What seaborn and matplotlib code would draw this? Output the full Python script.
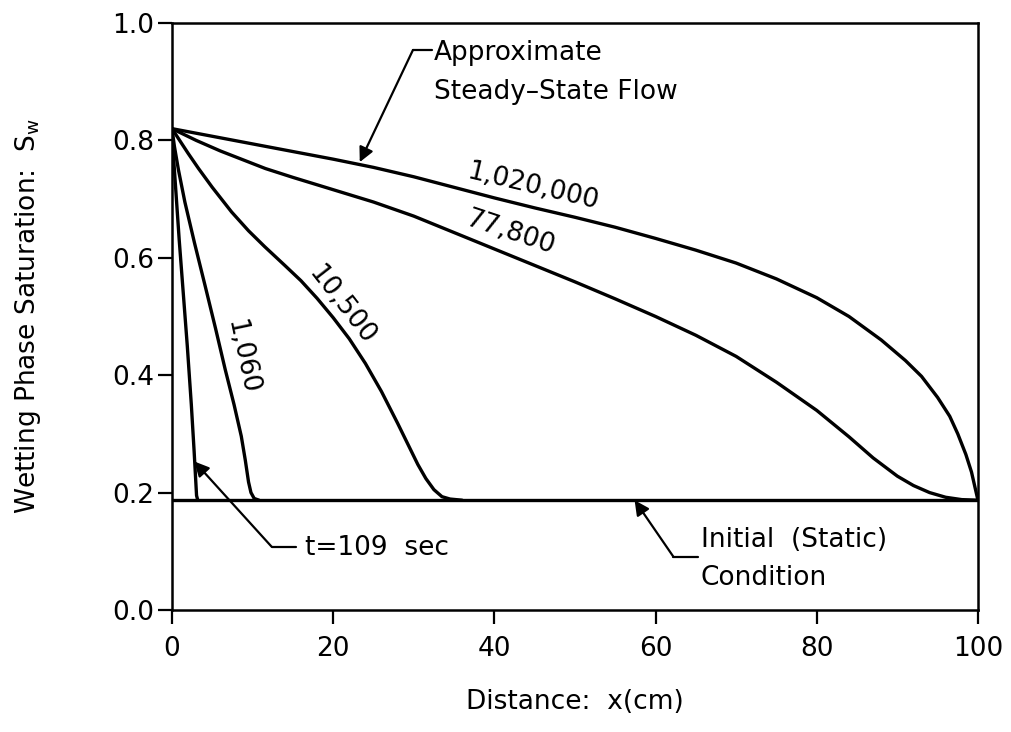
import matplotlib
matplotlib.use("Agg")
import matplotlib.pyplot as plt
import seaborn as sns

sns.set_style("ticks")
plt.rcParams['font.family'] = ['DejaVu Sans']
plt.rcParams['mathtext.default'] = 'regular'
plt.rcParams['font.size'] = 19
for key in ['text.color', 'axes.labelcolor', 'xtick.color', 'ytick.color']:
    plt.rcParams[key] = 'black'

# saturation profiles, x in cm
x_109 = [0, 0.2, 0.5, 0.9, 1.4, 1.9, 2.4, 2.75, 2.95, 3.05, 3.2]
s_109 = [0.82, 0.77, 0.71, 0.63, 0.54, 0.45, 0.35, 0.27, 0.22, 0.195, 0.187]

x_1060 = [0, 0.3, 0.8, 1.6, 2.8, 4.1, 5.4, 6.6, 7.7, 8.6, 9.1, 9.5, 9.8, 10.2, 10.8]
s_1060 = [0.82, 0.79, 0.75, 0.695, 0.625, 0.553, 0.48, 0.41, 0.35, 0.296, 0.255, 0.218, 0.2, 0.19, 0.187]

x_10500 = [0, 1, 2, 3.3, 5, 7.4, 9.5, 11.5, 14, 16, 18, 20, 22, 24, 26, 28,
           29.5, 30.5, 31.5, 32.5, 33.5, 34.5, 36]
s_10500 = [0.82, 0.799, 0.778, 0.752, 0.720, 0.678, 0.646, 0.619, 0.587, 0.561, 0.531,
           0.498, 0.462, 0.420, 0.372, 0.318, 0.276, 0.248, 0.224, 0.205, 0.193, 0.189, 0.187]

x_77800 = [0, 3, 6, 11.6, 15, 20, 25, 30, 35, 40, 45, 50, 55, 60, 65, 70, 75, 80,
           84, 87, 90, 92, 94, 96, 98, 100]
s_77800 = [0.82, 0.80, 0.782, 0.752, 0.737, 0.716, 0.695, 0.671, 0.643, 0.615, 0.587,
           0.559, 0.530, 0.500, 0.468, 0.432, 0.388, 0.340, 0.295, 0.259, 0.228, 0.212,
           0.200, 0.192, 0.188, 0.187]

x_1020000 = [0, 5, 10, 15, 20, 25, 30, 35, 40, 45, 50, 55, 60, 65, 70, 75, 80, 84,
             88, 91, 93, 95, 96.5, 97.5, 98.5, 99.2, 99.7, 100]
s_1020000 = [0.82, 0.807, 0.794, 0.781, 0.768, 0.754, 0.738, 0.720, 0.702, 0.685,
             0.669, 0.652, 0.633, 0.613, 0.591, 0.564, 0.532, 0.500, 0.460, 0.425,
             0.398, 0.362, 0.33, 0.30, 0.265, 0.235, 0.205, 0.187]

x_init = [0, 100]
s_init = [0.187, 0.187]

curves = [(x_109, s_109), (x_1060, s_1060), (x_10500, s_10500),
          (x_77800, s_77800), (x_1020000, s_1020000), (x_init, s_init)]

# curve labels: text, x, y, rotation
curve_labels = [("1,060", 8.6, 0.431, -78),
                ("10,500", 21.0, 0.52, -52),
                ("77,800", 42.1, 0.642, -18.4),
                ("1,020,000", 44.8, 0.721, -13.4)]

fig = plt.figure(figsize=(10.11, 7.32), dpi=100)
ax = fig.add_axes([0.1701, 0.1667, 0.7972, 0.8019])

for xs, ss in curves:
    sns.lineplot(x=xs, y=ss, sort=False, estimator=None, color='black',
                 linewidth=2.4, ax=ax)

for txt, tx, ty, rot in curve_labels:
    ax.text(tx, ty, txt, rotation=rot, ha='center', va='center',
            rotation_mode='anchor')

arrow_kw = dict(arrowstyle='-|>', color='black', lw=1.6, mutation_scale=22,
                shrinkA=0, shrinkB=0)

# Approximate steady-state flow
ax.annotate("", xy=(23.3, 0.763), xytext=(29.9, 0.954), arrowprops=arrow_kw)
ax.plot([29.9, 32.3], [0.954, 0.954], color='black', lw=1.6)
ax.text(32.5, 0.949, "Approximate", ha='left', va='center')
ax.text(32.5, 0.882, "Steady\u2013State Flow", ha='left', va='center')

# t = 109 sec
ax.annotate("", xy=(2.77, 0.253), xytext=(12.35, 0.108), arrowprops=arrow_kw)
ax.plot([12.35, 15.45], [0.108, 0.108], color='black', lw=1.6)
ax.text(16.5, 0.106, "t=109  sec", ha='left', va='center')

# initial condition
ax.annotate("", xy=(57.4, 0.187), xytext=(62.2, 0.091), arrowprops=arrow_kw)
ax.plot([62.2, 65.3], [0.091, 0.091], color='black', lw=1.6)
ax.text(65.6, 0.119, "Initial  (Static)", ha='left', va='center')
ax.text(65.6, 0.055, "Condition", ha='left', va='center')

ax.set_xlim(0, 100)
ax.set_ylim(0, 1.0)
ax.set_xticks([0, 20, 40, 60, 80, 100])
ax.set_yticks([0.0, 0.2, 0.4, 0.6, 0.8, 1.0])
ax.set_yticklabels(["0.0", "0.2", "0.4", "0.6", "0.8", "1.0"])
ax.tick_params(axis='both', direction='out', length=10, width=1.6,
               labelsize=19, color='black')
ax.tick_params(axis='x', pad=9)
ax.tick_params(axis='y', pad=3)
for sp in ax.spines.values():
    sp.set_visible(True)
    sp.set_linewidth(1.8)
    sp.set_color('black')

ax.set_xlabel("Distance:  x(cm)", fontsize=19)
ax.set_ylabel("Wetting Phase Saturation:  S$_w$", fontsize=19)
ax.xaxis.set_label_coords(0.5, -0.135)
ax.yaxis.set_label_coords(-0.16, 0.5)

fig.savefig("out.png", dpi=100)
